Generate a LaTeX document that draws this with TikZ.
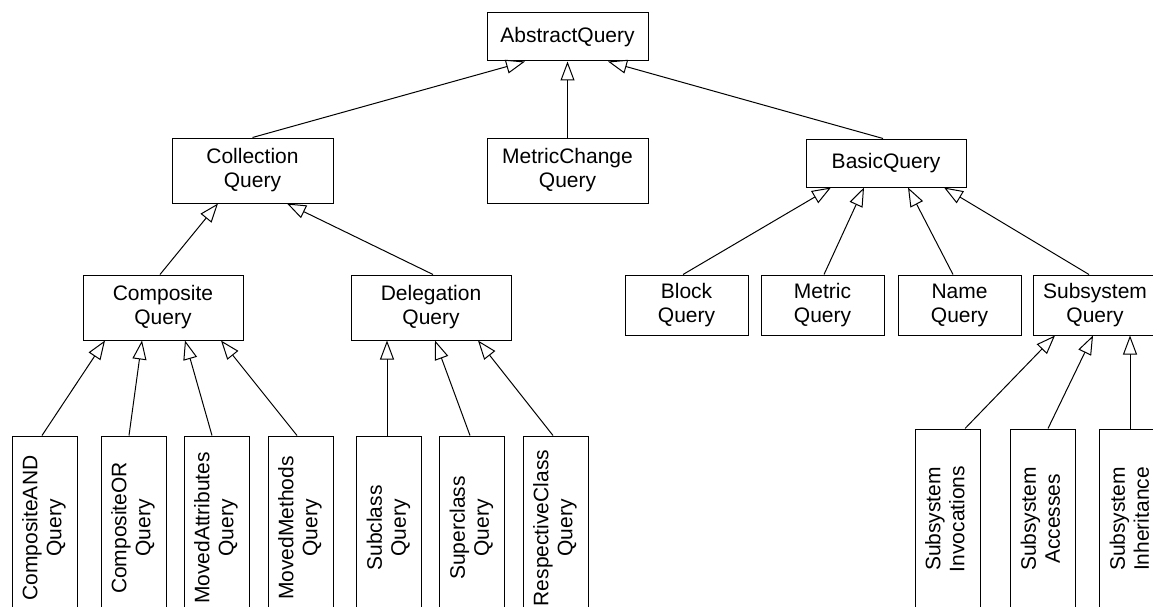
\documentclass[tikz,border=0pt]{standalone}
\usepackage{fontspec}
\setmainfont{Liberation Sans}
\usepackage{graphicx}
\usetikzlibrary{arrows.meta}

\tikzset{
  cls/.style={draw, line width=1pt, inner sep=0pt, align=center,
              font=\fontsize{21}{24}\selectfont},
  wide/.style={cls, minimum width=161pt, minimum height=65pt},
  flat/.style={cls, minimum width=161pt, minimum height=48pt},
  leaf/.style={cls, minimum width=123pt, minimum height=60pt},
  vleafA/.style={cls, minimum width=65pt, minimum height=184pt},
  vleafB/.style={cls, minimum width=65pt, minimum height=180pt},
  gen/.style={line width=1pt,
              -{Triangle[length=19pt, width=14pt, fill=white, line width=1pt]}}
}

\newcommand{\vtext}[2]{\rotatebox{90}{\begin{tabular}{@{}c@{}}#1\\#2\end{tabular}}}

\begin{document}
\begin{tikzpicture}[x=1pt, y=-1pt]
  \path[use as bounding box, clip] (0,0) rectangle (1153,607);

  % top level
  \node[flat] (abs) at (567.5,37) {AbstractQuery};

  % second level
  \node[wide] (col) at (252.5,170.5) {Collection\\Query};
  \node[wide] (mch) at (567.5,170.5) {MetricChange\\Query};
  \node[flat, minimum width=160pt] (bas) at (886,163) {BasicQuery};

  % third level
  \node[wide, minimum width=160pt] (com) at (163,307.5) {Composite\\Query};
  \node[wide, minimum width=160pt] (del) at (431,307.5) {Delegation\\Query};
  \node[leaf] (blk) at (686.5,305) {Block\\Query};
  \node[leaf] (mtr) at (822.5,305) {Metric\\Query};
  \node[leaf] (nam) at (959.5,305) {Name\\Query};
  \node[leaf, minimum width=124pt] (sys) at (1095,305) {Subsystem\\Query};

  % leaves with vertical labels
  \node[vleafA] (cand) at (44.5,528)  {\vtext{CompositeAND}{Query}};
  \node[vleafA] (cor)  at (133.5,528) {\vtext{CompositeOR}{Query}};
  \node[vleafA] (mat)  at (216.5,528) {\vtext{MovedAttributes}{Query}};
  \node[vleafA] (mme)  at (300.5,528) {\vtext{MovedMethods}{Query}};
  \node[vleafA] (scl)  at (389,528)   {\vtext{Subclass}{Query}};
  \node[vleafA] (sup)  at (472,528)   {\vtext{Superclass}{Query}};
  \node[vleafA] (rcl)  at (555.5,528) {\vtext{RespectiveClass}{Query}};
  \node[vleafB] (inv)  at (947.5,519) {\vtext{Subsystem}{Invocations}};
  \node[vleafB] (acc)  at (1043,519)  {\vtext{Subsystem}{Accesses}};
  \node[vleafB] (inh)  at (1132,519)  {\vtext{Subsystem}{Inheritance}};

  % generalizations
  \draw[gen] (col.north) -- ([xshift=-42.5pt]abs.south);
  \draw[gen] (mch.north) -- (abs.south);
  \draw[gen] ([xshift=-3pt]bas.north) -- ([xshift=40.5pt]abs.south);

  \draw[gen] ([xshift=-3pt]com.north) -- ([xshift=-34.5pt]col.south);
  \draw[gen] ([xshift=2pt]del.north) -- ([xshift=34.5pt]col.south);

  \draw[gen] ([xshift=-3.5pt]blk.north) -- ([xshift=-55pt]bas.south);
  \draw[gen] ([xshift=1.5pt]mtr.north) -- ([xshift=-22pt]bas.south);
  \draw[gen] ([xshift=-6.5pt]nam.north) -- ([xshift=22pt]bas.south);
  \draw[gen] ([xshift=-6pt]sys.north) -- ([xshift=58pt]bas.south);

  \draw[gen] ([xshift=-2.5pt]cand.north) -- ([xshift=-58pt]com.south);
  \draw[gen] ([xshift=-4.5pt]cor.north) -- ([xshift=-21pt]com.south);
  \draw[gen] ([xshift=-4.5pt]mat.north) -- ([xshift=22pt]com.south);
  \draw[gen] ([xshift=-3.5pt]mme.north) -- ([xshift=58pt]com.south);

  \draw[gen] ([xshift=-2pt]scl.north) -- ([xshift=-44pt]del.south);
  \draw[gen] ([xshift=-2pt]sup.north) -- ([xshift=4pt]del.south);
  \draw[gen] ([xshift=-2.5pt]rcl.north) -- ([xshift=47pt]del.south);

  \draw[gen] ([xshift=17.5pt]inv.north) -- ([xshift=-40pt]sys.south);
  \draw[gen] ([xshift=5pt]acc.north) -- ([xshift=-2pt]sys.south);
  \draw[gen] ([xshift=-2pt]inh.north) -- ([xshift=35pt]sys.south);
\end{tikzpicture}
\end{document}
